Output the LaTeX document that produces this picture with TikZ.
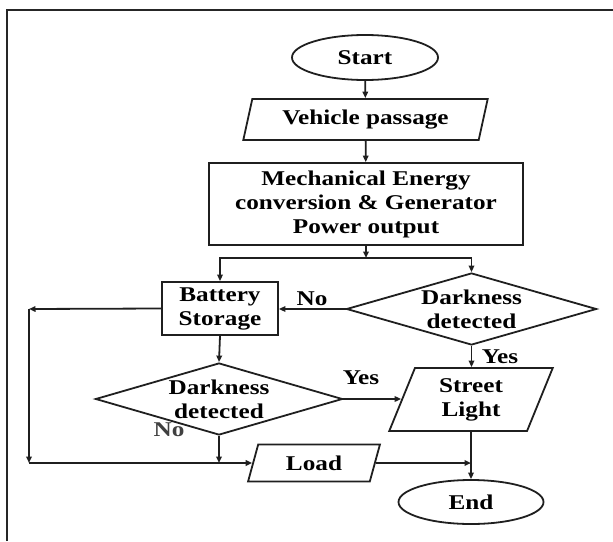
\documentclass[tikz,border=0pt]{standalone}
\usepackage{fontspec}
\setmainfont{Liberation Serif}[FakeStretch=1.2]
\usetikzlibrary{shapes.geometric,arrows.meta}
\begin{document}
\begin{tikzpicture}[x=1pt,y=-1pt,
  every node/.style={font=\bfseries\fontsize{21}{24}\selectfont},
  ln/.style={line width=1.8pt, draw=black!88},
  arr/.style={ln, -{Triangle[length=6.5pt,width=5.5pt]}},
  term/.style={ellipse, draw=black!88, line width=1.8pt, minimum width=146pt, minimum height=45pt, inner sep=0pt},
  io/.style={trapezium, trapezium left angle=71, trapezium right angle=109, trapezium stretches=true, draw=black!88, line width=1.8pt, inner sep=0pt, align=center},
  proc/.style={rectangle, draw=black!88, line width=1.8pt, inner sep=0pt, align=center},
  dec/.style={diamond, draw=black!88, line width=1.8pt, inner sep=0pt, aspect=3.47, minimum width=250pt, minimum height=72pt, align=center},
  lbl/.style={inner sep=0pt}
]
\useasboundingbox (0,0) rectangle (613,541);
\draw[line width=2.4pt, black!85] (7,541) -- (7,10) -- (613,10);

\node[term] (start) at (365,57.5) {Start};
\node[io, minimum width=245pt, minimum height=41pt] (vp) at (365.5,119.5) {Vehicle passage};
\node[proc, minimum width=314pt, minimum height=82pt] (mech) at (366,204) {Mechanical Energy\\conversion \& Generator\\Power output};
\coordinate (br) at (366,258);
\node[proc, minimum width=116pt, minimum height=53pt] (bat) at (220,308.5) {Battery\\Storage};
\node[dec] (d1) at (471.5,309) {\makebox[0pt]{Darkness}\\\makebox[0pt]{detected}};
\node[dec, minimum width=247pt] (d2) at (219,399) {\makebox[0pt]{Darkness}\\\makebox[0pt]{detected}};
\node[io, minimum width=164pt, minimum height=63pt] (sl) at (471,399.5) {Street\\Light};
\node[io, minimum width=132pt, minimum height=37pt] (load) at (314,463) {Load};
\node[term, minimum width=145pt, minimum height=44pt] (end) at (471,502) {End};

\coordinate (c1) at (29,309);
\coordinate (c2) at (29,463);
\coordinate (j1) at (219,463);
\coordinate (j2) at (471,463);

\draw[arr] (start) -- (vp);
\draw[arr] (vp) -- (mech);
\draw[arr] (mech.south -| br) -- (br);
\draw[arr] (br) -| (bat.north);
\draw[arr] (br) -| (d1.north);
\draw[arr] (d1.west) -- (bat.east |- d1.west);
\node[lbl] at (312,299) {No};
\draw[arr] (bat.west) -- (c1);
\draw[arr] (c1) -- (c2);
\draw[arr] (c2) -- (load.west |- c2);
\draw[arr] (bat.south) -- (d2.north);
\draw[arr] (d2.south) -- (j1);
\draw[arr] (d2.east) -- (sl.west |- d2.east);
\node[lbl] at (361,378) {Yes};
\draw[arr] (d1.south) -- (d1.south |- sl.north);
\node[lbl] at (500,357) {Yes};
\node[lbl, text=black!75] at (169,430) {No};
\draw[arr] (load.east) -- (j2);
\draw[arr] (end.north |- sl.south) -- (end.north);
\end{tikzpicture}
\end{document}
